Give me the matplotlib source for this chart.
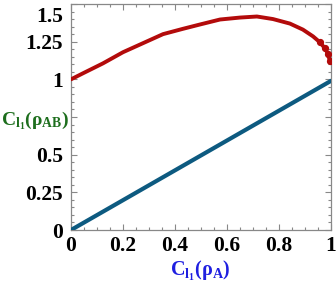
import matplotlib
matplotlib.use("Agg")
import matplotlib.pyplot as plt
from matplotlib.transforms import ScaledTranslation

# data
x_red = [0.0, 0.046, 0.123, 0.2, 0.277, 0.354, 0.43, 0.496, 0.573, 0.65,
         0.715, 0.777, 0.842, 0.892, 0.931, 0.958, 0.977, 0.988, 0.996]
y_red = [1.0, 1.04, 1.106, 1.18, 1.24, 1.30, 1.335, 1.364, 1.397, 1.41,
         1.417, 1.40, 1.37, 1.33, 1.285, 1.245, 1.205, 1.17, 1.12]
x_end = [0.958, 0.977, 0.988, 0.996]
y_end = [1.245, 1.205, 1.17, 1.12]
x_blue = [0.0, 0.5, 1.0]
y_blue = [0.0, 0.495, 0.99]

xticks = [0, 0.2, 0.4, 0.6, 0.8, 1]
xticklabels = ["0", "0.2", "0.4", "0.6", "0.8", "1"]
yticks = [0, 0.25, 0.5, 0.75, 1, 1.25, 1.5]
yticklabels = ["0", "0.25", "0.5", "", "1", "1.25", "1.5"]

plt.rcParams['mathtext.default'] = 'regular'
FONT = 'Liberation Serif'

fig = plt.figure(figsize=(3.36, 2.95), dpi=100)
ax = fig.add_axes([71/336, 65/295, 260/336, 226/295])

red = '#b30b0b'
blue = '#0d5a80'
ax.plot(x_red, y_red, color=red, lw=2.8, solid_capstyle='round', zorder=3)
ax.plot(x_end, y_end, 'o', color=red, ms=4.2, zorder=3)
ax.plot(x_blue, y_blue, color=blue, lw=3.0, solid_capstyle='round', zorder=3)

ax.set_xlim(0, 1)
ax.set_ylim(0, 1.5)
ax.set_xticks(xticks)
ax.set_xticklabels(xticklabels)
ax.set_yticks(yticks)
ax.set_yticklabels(yticklabels)
ax.set_xticks([i * 0.05 for i in range(21)], minor=True)
ax.set_yticks([i * 0.05 for i in range(31)], minor=True)

ax.tick_params(which='both', direction='in', top=True, right=True,
               color='#888888', width=0.8)
ax.tick_params(which='major', length=4.5)
ax.tick_params(which='minor', length=2.5)
ax.tick_params(axis='x', pad=4)
ax.tick_params(axis='y', pad=6)
for lab in ax.get_xticklabels() + ax.get_yticklabels():
    lab.set_fontfamily(FONT)
    lab.set_fontweight('bold')
    lab.set_fontsize(15.5)
for s in ax.spines.values():
    s.set_color('#888888')
    s.set_linewidth(0.9)

# shift the top label down so it fits inside the figure
top_lab = ax.get_yticklabels()[-1]
top_lab.set_transform(top_lab.get_transform() +
                      ScaledTranslation(0, -10/100, fig.dpi_scale_trans))

fig.text(35/336, 1 - 121/295, r'$C_{l_1}(ρ_{AB})$', color='#1d6e1d',
         fontfamily=FONT, fontweight='bold', fontsize=14,
         ha='center', va='center')
fig.text(200/336, 1 - 271/295, r'$C_{l_1}(ρ_{A})$', color='#1f1fe0',
         fontfamily=FONT, fontweight='bold', fontsize=14.5,
         ha='center', va='center')

fig.savefig('out.png', dpi=100)
